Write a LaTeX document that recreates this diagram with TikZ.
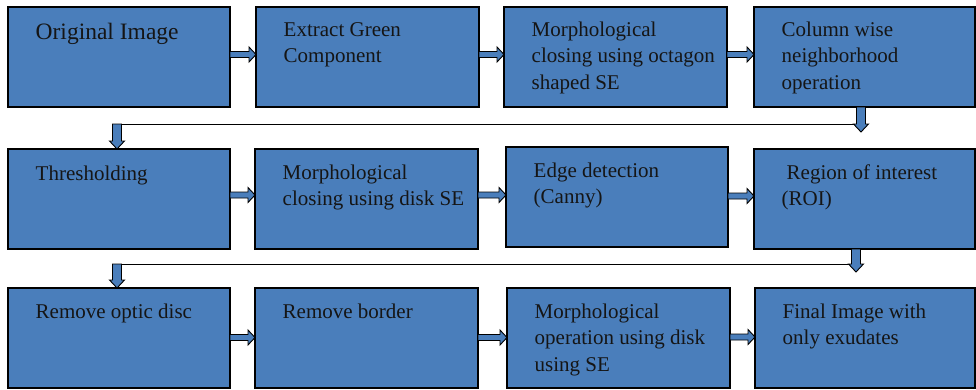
\documentclass[tikz,border=0pt]{standalone}
\usepackage{fontspec}
\setmainfont{Liberation Serif}
\usetikzlibrary{calc}
\definecolor{boxblue}{HTML}{4A7EBB}
\definecolor{txtc}{HTML}{151515}
\newcommand\boxtext[1]{\parbox[t]{215pt}{\raggedright #1}}
\newcommand\hblock[2]{%
  \draw[blk] let \p1=(#1), \p2=(#2) in
    (\x1,\y1+3pt) -- (\x2-7pt,\y1+3pt) -- (\x2-7pt,\y1+7.5pt) -- (\x2,\y1)
    -- (\x2-7pt,\y1-7.5pt) -- (\x2-7pt,\y1-3pt) -- (\x1,\y1-3pt) -- cycle;}
\newcommand\vblock[2]{%
  \draw[blk] let \p1=(#1), \p2=(#2) in
    (\x1-4.5pt,\y1) -- (\x1-4.5pt,\y2+8pt) -- (\x1-7.5pt,\y2+8pt) -- (\x1,\y2)
    -- (\x1+7.5pt,\y2+8pt) -- (\x1+4.5pt,\y2+8pt) -- (\x1+4.5pt,\y1) -- cycle;}
\begin{document}
\begin{tikzpicture}[x=1pt,y=-1pt,
  box/.style={draw=black, fill=boxblue, line width=1.2pt, minimum width=222pt,
    minimum height=100pt, inner sep=0pt, outer sep=0pt},
  lbl/.style={anchor=base west, inner sep=0pt, text=txtc,
    font=\fontsize{21}{26.5}\selectfont},
  blk/.style={draw=black, fill=boxblue, line width=0.9pt, line join=miter},
  conn/.style={draw=black, line width=1pt}]
\useasboundingbox (0,0) rectangle (976,389);
% boxes
\node[box] (b11) at (119,57) {};
\node[box, minimum width=223pt] (b12) at (367.5,57) {};
\node[box, minimum width=223pt] (b13) at (615.5,57) {};
\node[box, minimum width=221pt] (b14) at (864.5,57) {};
\node[box] (b21) at (119,199) {};
\node[box, minimum width=223pt] (b22) at (366.5,199) {};
\node[box] (b23) at (617,197) {};
\node[box, minimum width=221pt] (b24) at (864.5,199) {};
\node[box] (b31) at (119,338) {};
\node[box, minimum width=223pt] (b32) at (366.5,338) {};
\node[box, minimum width=223pt] (b33) at (618.5,338) {};
\node[box, minimum width=220pt] (b34) at (865,338) {};
% texts
\node[lbl, font=\fontsize{23.5}{28}\selectfont] (t11) at ($(b11.north west)+(27.5,32)$) {\boxtext{Original Image}};
\node[lbl] (t12) at ($(b12.north west)+(27.5,29)$) {\boxtext{Extract Green\\Component}};
\node[lbl] (t13) at ($(b13.north west)+(27.5,29)$) {\boxtext{Morphological\\closing using octagon\\shaped SE}};
\node[lbl] (t14) at ($(b14.north west)+(27.5,29)$) {\boxtext{Column wise\\neighborhood\\operation}};
\node[lbl] (t21) at ($(b21.north west)+(27.5,31)$) {\boxtext{Thresholding}};
\node[lbl] (t22) at ($(b22.north west)+(27.5,30)$) {\boxtext{Morphological\\closing using disk SE}};
\node[lbl] (t23) at ($(b23.north west)+(27.5,30)$) {\boxtext{Edge detection\\(Canny)}};
\node[lbl] (t24) at ($(b24.north west)+(27.5,30)$) {\boxtext{\hspace*{5pt}Region of interest\\(ROI)}};
\node[lbl] (t31) at ($(b31.north west)+(27.5,30)$) {\boxtext{Remove optic disc}};
\node[lbl] (t32) at ($(b32.north west)+(27.5,30)$) {\boxtext{Remove border}};
\node[lbl] (t33) at ($(b33.north west)+(27.5,30)$) {\boxtext{Morphological\\operation using disk\\using SE}};
\node[lbl] (t34) at ($(b34.north west)+(27.5,30)$) {\boxtext{Final Image with\\only exudates}};
% horizontal block arrows
\hblock{$(b11.east)+(0,-2.5)$}{$(b12.west)+(0,-2.5)$}
\hblock{$(b12.east)+(0,-2.5)$}{$(b13.west)+(0,-2.5)$}
\hblock{$(b13.east)+(0,-2.5)$}{$(b14.west)+(0,-2.5)$}
\hblock{$(b21.east)+(0,-4)$}{$(b22.west)+(0,-4)$}
\hblock{$(b22.east)+(0,-4)$}{$(b23.west)+(0,-2)$}
\hblock{$(b23.east)+(0,-1)$}{$(b24.west)+(0,-3)$}
\hblock{$(b31.east)+(0,-0.5)$}{$(b32.west)+(0,-0.5)$}
\hblock{$(b32.east)+(0,-0.5)$}{$(b33.west)+(0,-0.5)$}
\hblock{$(b33.east)+(0,-1)$}{$(b34.west)+(0,-1)$}
% row 1 -> row 2
\coordinate (c1r) at ($(b14.south)+(-3.5,17)$);
\coordinate (c1l) at ($(b21.north)+(-2,-25)$);
\draw[conn] (c1r) -- (c1r -| c1l);
\vblock{$(b14.south)+(-3.5,0)$}{$(b14.south)+(-3.5,25)$}
\vblock{c1l}{$(b21.north)+(-2,0)$}
% row 2 -> row 3
\coordinate (c2r) at ($(b24.south)+(-8.5,15)$);
\coordinate (c2l) at ($(b31.north)+(-2,-24)$);
\draw[conn] (c2r) -- (c2r -| c2l);
\vblock{$(b24.south)+(-8.5,0)$}{$(b24.south)+(-8.5,23)$}
\vblock{c2l}{$(b31.north)+(-2,0)$}
\end{tikzpicture}
\end{document}
